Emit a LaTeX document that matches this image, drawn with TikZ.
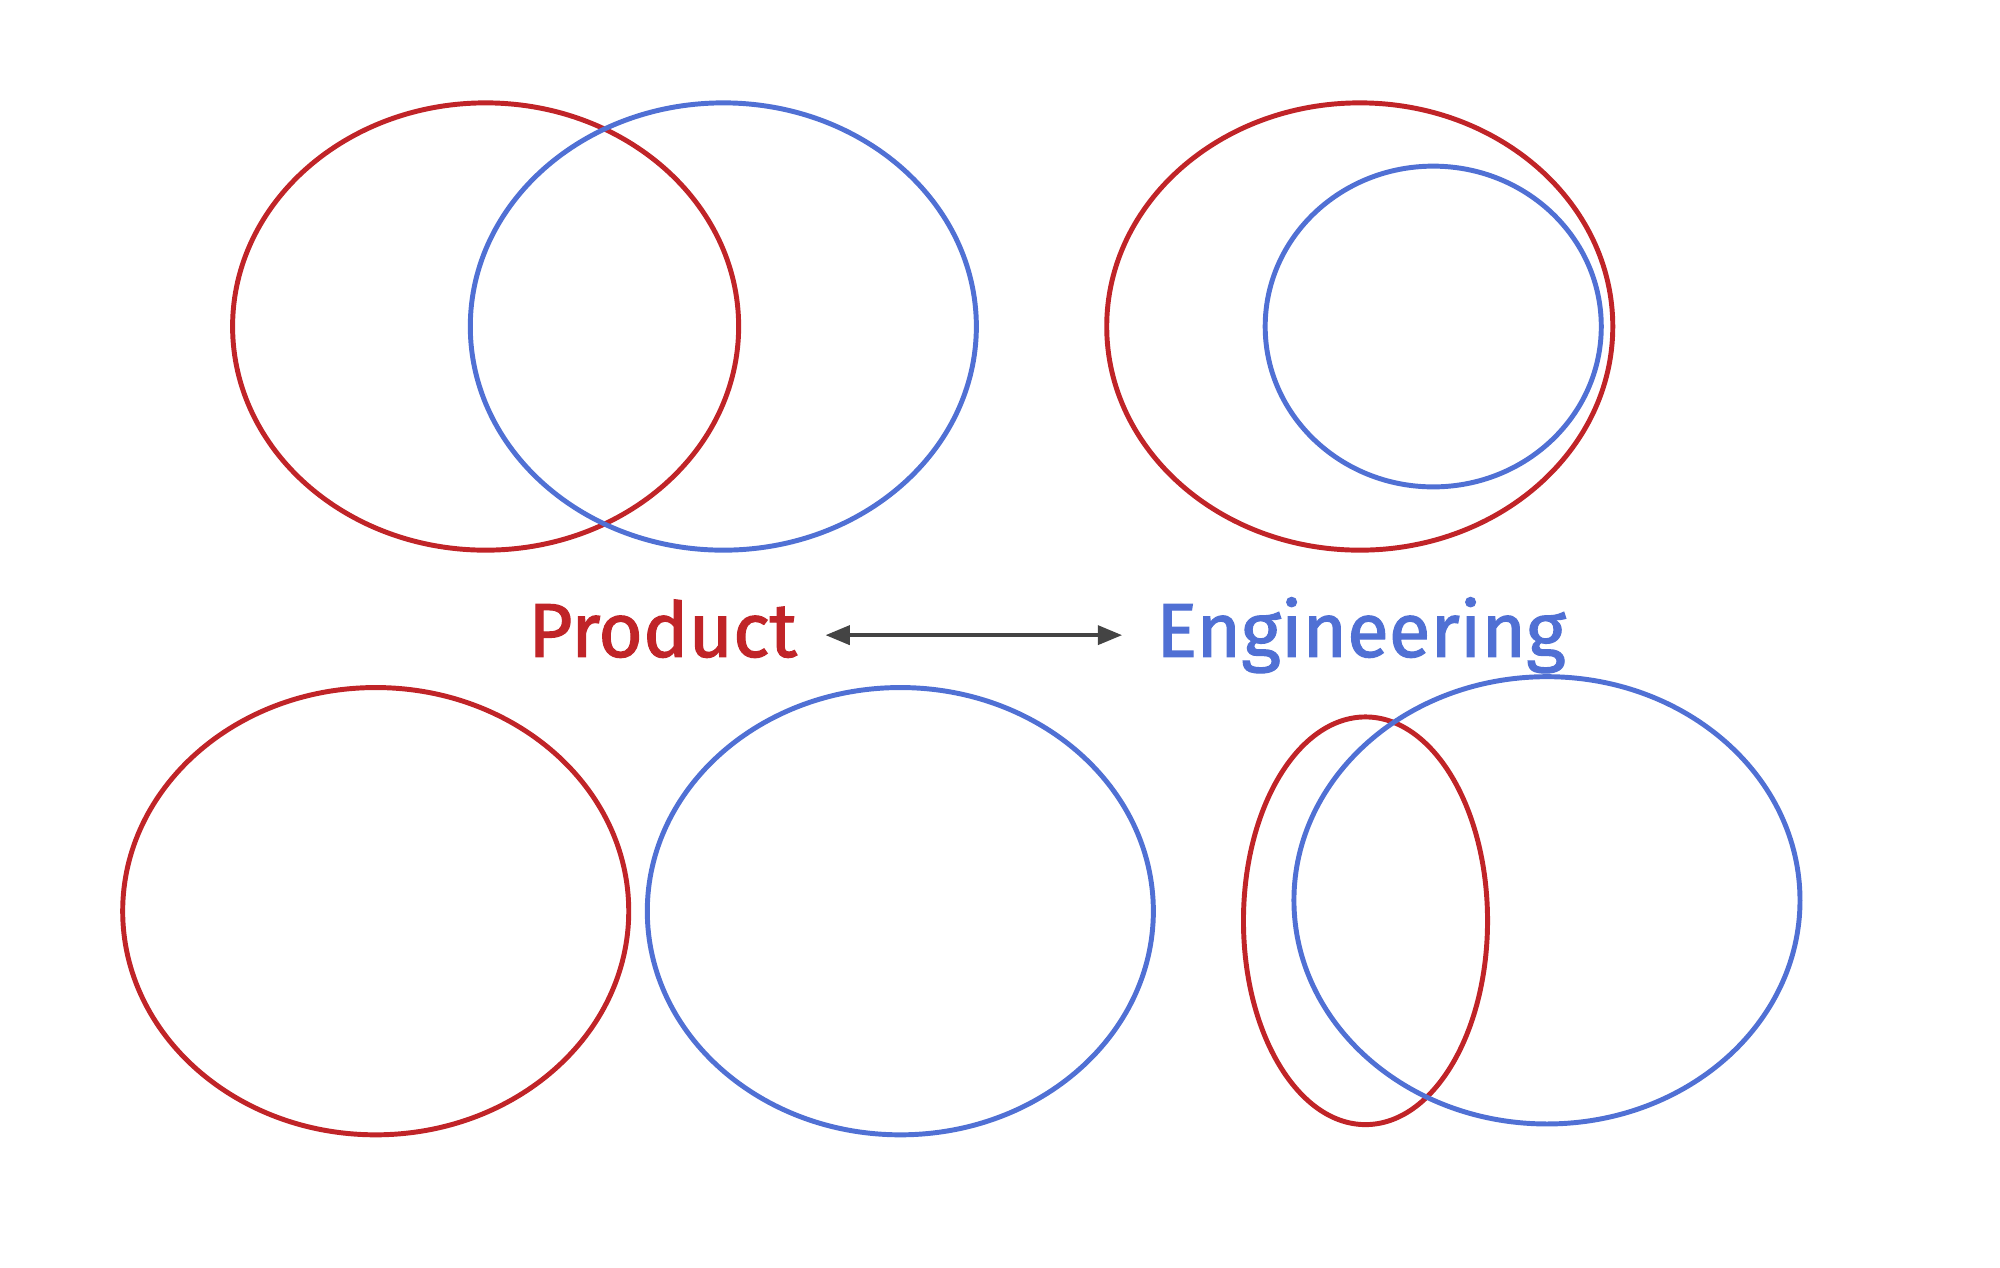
\documentclass[tikz,border=0pt]{standalone}
\usepackage{fontspec}
\setmainfont{Fira Sans}[FakeBold=1.5]
\usetikzlibrary{shapes.geometric}
\usetikzlibrary{arrows.meta}

\definecolor{prodred}{RGB}{192,36,40}
\definecolor{engblue}{RGB}{80,112,212}
\definecolor{arrgray}{RGB}{68,68,68}

\tikzset{
	setring/.style={draw, ellipse, line width=1.1pt, inner sep=0pt},
	big/.style={setring, minimum width=3.96cm, minimum height=3.5cm},
	word/.style={anchor=base, font=\fontsize{17}{20}\selectfont}
}

\begin{document}
\begin{tikzpicture}
	\useasboundingbox (0,-0.03) rectangle (15.65,9.89);

	% overlap
	\node[big, prodred] (ovP) at (3.80,7.335) {};
	\node[big, engblue] (ovE) at (5.66,7.335) {};

	% engineering inside product
	\node[big, prodred] (inP) at (10.64,7.335) {};
	\node[setring, engblue, minimum width=2.63cm, minimum height=2.51cm] (inE) at (11.215,7.335) {};

	% labels
	\node[word, prodred] (prod) at (5.185,4.75) {Product};
	\node[word, engblue] (eng) at (10.65,4.75) {Engineering};
	\coordinate (arrL) at (6.46,4.92);
	\coordinate (arrR) at (8.78,4.92);
	\draw[arrgray, line width=0.75pt,
		{Triangle[length=0.19cm, width=0.15cm]}-{Triangle[length=0.19cm, width=0.15cm]}
		] (arrL) -- (arrR);

	% disjoint
	\node[big, prodred] (djP) at (2.94,2.76) {};
	\node[big, engblue] (djE) at (7.045,2.76) {};

	% narrow product crossing engineering
	\node[setring, prodred, minimum width=1.91cm, minimum height=3.19cm] (nrP) at (10.685,2.685) {};
	\node[big, engblue] (nrE) at (12.105,2.845) {};
\end{tikzpicture}
\end{document}
